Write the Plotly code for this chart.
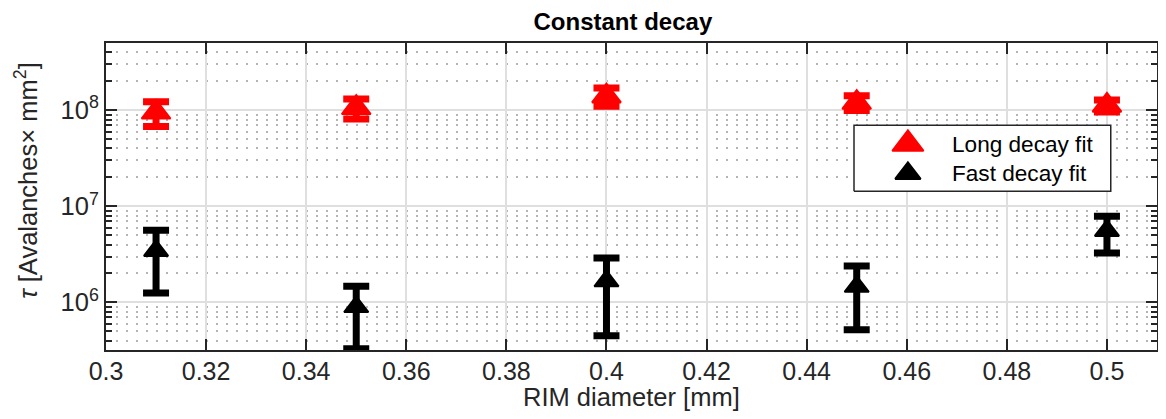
import plotly.graph_objects as go

# ---- data ----
rim_diameter = [0.31, 0.35, 0.40, 0.45, 0.50]
long_tau = [9.5e7, 1.06e8, 1.40e8, 1.20e8, 1.12e8]
long_err = [2.75e7, 2.5e7, 3.0e7, 2.1e7, 1.6e7]
fast_tau = [3.45e6, 9.0e5, 1.67e6, 1.46e6, 5.57e6]
fast_err = [2.2e6, 5.7e5, 1.22e6, 9.4e5, 2.3e6]
series_names = ["Long decay fit", "Fast decay fit"]
y_major = [1e6, 1e7, 1e8]
y_major_text = ["10<sup>6</sup>", "10<sup>7</sup>", "10<sup>8</sup>"]
y_minor = [m * 10 ** e for e in (5, 6, 7, 8) for m in range(2, 10)]
x_title = "RIM diameter [mm]"
y_title = "<i>τ</i> [Avalanches× mm<sup>2</sup>]"

AX = "#262626"
FONT = "Liberation Sans, Arial, Helvetica, sans-serif"

fig = go.Figure()

fig.add_trace(go.Scatter(
    x=rim_diameter, y=long_tau, mode="markers", name=series_names[0],
    marker=dict(symbol="triangle-up", size=25, color="red",
                line=dict(color="red", width=2)),
    error_y=dict(type="data", array=long_err, color="red", thickness=7, width=13),
    cliponaxis=False,
))
fig.add_trace(go.Scatter(
    x=rim_diameter, y=fast_tau, mode="markers", name=series_names[1],
    marker=dict(symbol="triangle-up", size=21, color="black",
                line=dict(color="black", width=2)),
    error_y=dict(type="data", array=fast_err, color="black", thickness=7, width=13),
    cliponaxis=False,
))

# ---- custom legend drawn on an invisible overlay axis (0..1 box coords) ----
bx0, bx1, by0, by1 = 0.7117, 0.956, 0.517, 0.732
fig.add_trace(go.Scatter(
    x=[bx0, bx1, bx1, bx0, bx0], y=[by0, by0, by1, by1, by0],
    mode="lines", fill="toself", fillcolor="white",
    line=dict(color=AX, width=1.5), xaxis="x2", yaxis="y2",
    hoverinfo="skip", showlegend=False,
))
leg_y = [0.671, 0.575]
fig.add_trace(go.Scatter(
    x=[0.763], y=[leg_y[0]], mode="markers", xaxis="x2", yaxis="y2",
    marker=dict(symbol="triangle-up", size=27, color="red", line=dict(color="red", width=2)),
    hoverinfo="skip", showlegend=False,
))
fig.add_trace(go.Scatter(
    x=[0.763], y=[leg_y[1]], mode="markers", xaxis="x2", yaxis="y2",
    marker=dict(symbol="triangle-up", size=22, color="black", line=dict(color="black", width=2)),
    hoverinfo="skip", showlegend=False,
))
for name, yy in zip(series_names, leg_y):
    fig.add_annotation(x=0.803, y=yy, xref="x2", yref="y2", text=name,
                       showarrow=False, xanchor="left", yanchor="middle",
                       font=dict(family=FONT, size=22.6, color="black"))

# axis titles
fig.add_annotation(x=0.5, y=-0.153, xref="paper", yref="paper", text=x_title,
                   showarrow=False, xanchor="center", yanchor="middle",
                   font=dict(family=FONT, size=25.5, color=AX))
fig.add_annotation(x=-0.0761, y=0.551, xref="paper", yref="paper", text=y_title,
                   textangle=-90, showarrow=False, xanchor="center", yanchor="middle",
                   font=dict(family=FONT, size=25.5, color=AX))

# the page body adds an 8px margin, so the figure is sized to fit the window
fig.update_layout(
    width=1158, height=411,
    margin=dict(l=98, r=9, t=35, b=69),
    plot_bgcolor="white", paper_bgcolor="white",
    showlegend=False,
    font=dict(family=FONT, size=25, color=AX),
    title=dict(text="<b>Constant decay</b>", x=0.531, xanchor="center",
               y=0.9672, yanchor="middle", yref="container",
               font=dict(family=FONT, size=24, color="black")),
    xaxis=dict(
        range=[0.3, 0.51], tick0=0.3, dtick=0.02, automargin=False,
        ticks="inside", ticklen=11, tickwidth=1.5, tickcolor=AX,
        showline=True, linecolor=AX, linewidth=2, mirror="ticks",
        showgrid=True, gridcolor="#dfdfdf", gridwidth=2,
        zeroline=False, ticklabelstandoff=-2,
        tickfont=dict(size=25, color=AX),
    ),
    yaxis=dict(
        type="log", range=[5.505, 8.699], automargin=False,
        tickmode="array", tickvals=y_major, ticktext=y_major_text,
        ticks="inside", ticklen=11, tickwidth=1.5, tickcolor=AX,
        showline=True, linecolor=AX, linewidth=2, mirror="ticks",
        showgrid=True, gridcolor="#dfdfdf", gridwidth=2,
        zeroline=False,
        tickfont=dict(size=25.5, color=AX),
        minor=dict(tickmode="array", tickvals=y_minor, ticks="inside", ticklen=6,
                   tickwidth=1.5, tickcolor=AX, showgrid=True,
                   gridcolor="#b4b4b4", griddash="2px,8px", gridwidth=1.5),
    ),
    xaxis2=dict(overlaying="x", range=[0, 1], visible=False, anchor="y2"),
    yaxis2=dict(overlaying="y", range=[0, 1], visible=False, anchor="x2"),
)

fig.write_html("out.html")
